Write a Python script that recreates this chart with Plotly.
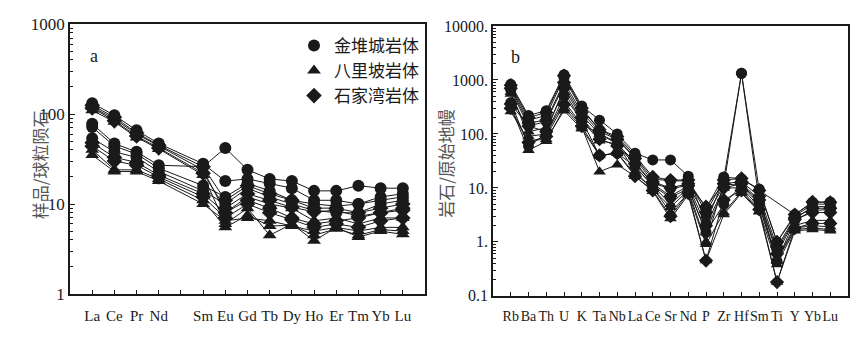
import plotly.graph_objects as go

# ---- chondrite-normalised REE (panel a) ----
ree = ["La", "Ce", "Pr", "Nd", "Sm", "Eu", "Gd", "Tb", "Dy", "Ho", "Er", "Tm", "Yb", "Lu"]
ree_axis = ["La", "Ce", "Pr", "Nd", "Pm", "Sm", "Eu", "Gd", "Tb", "Dy", "Ho", "Er", "Tm", "Yb", "Lu"]
ree_ticktext = ["La", "Ce", "Pr", "Nd", "", "Sm", "Eu", "Gd", "Tb", "Dy", "Ho", "Er", "Tm", "Yb", "Lu"]

ree_jdc = [
    [132, 97, 66, 47, 28, 18, 19, 17, 15, 11, 11, 10, 12, 13],
    [78, 47, 38, 27, 26, 42, 24, 19, 18, 14, 14, 16, 15, 15],
    [72, 44, 36, 25, 16, 12, 17, 14, 11, 10, 9.5, 10, 11, 12],
    [54, 38, 33, 23, 14, 10, 15, 12, 10, 8.5, 8, 8, 10, 11],
]
ree_blp = [
    [120, 88, 60, 44, 24, 8, 12, 10, 9, 6.5, 7, 6, 7, 7],
    [110, 82, 55, 41, 21, 6, 9, 4.5, 6, 3.9, 5.5, 4.3, 5, 4.6],
    [40, 24, 24, 19, 11, 5.5, 7.5, 5.7, 5.8, 4.5, 5.3, 4.5, 5.2, 5],
    [35, 23, 23, 18, 10, 6.5, 7, 6.5, 5.7, 5, 5.5, 5, 5.5, 5.5],
]
ree_sjw = [
    [125, 92, 62, 45, 26, 11, 16, 13, 11, 9, 9, 8, 9, 10],
    [48, 33, 29, 21, 13, 8, 11, 9, 7, 6, 6.5, 7, 8, 9],
    [44, 30, 27, 20, 12, 7, 10, 8, 6.7, 5.5, 6, 5.5, 6.5, 7],
    [117, 84, 57, 42, 22, 9, 13, 11, 9.2, 8.2, 8.5, 7.3, 8, 8.5],
]

# ---- primitive-mantle-normalised trace elements (panel b) ----
spider = ["Rb", "Ba", "Th", "U", "K", "Ta", "Nb", "La", "Ce", "Sr",
          "Nd", "P", "Zr", "Hf", "Sm", "Ti", "Y", "Yb", "Lu"]

tr_jdc = [
    [830, 220, 270, 1250, 330, 180, 100, 44, 33, 33, 16.5, 2.2, 14.7, 1330, 9, None, 3.2, 5.4, 5.5],
    [750, 180, 220, 1100, 280, 120, 83, 37, 14.7, 13.5, 13.5, 4.2, 16, 14.7, 9.5, 1.0, 3.0, 5.0, 5.0],
    [650, 140, 170, 800, 220, 100, 65, 30, 12, 9.8, 11, 3, 11, 1330, 5.8, 0.7, 2.7, 4.5, 4.5],
    [380, 60, 100, 500, 180, 40, 44, 25, 11, 6.6, 9.8, 1.5, 5, 11, 5, 0.44, 2.5, 3.8, 4.0],
]
tr_blp = [
    [550, 110, 130, 600, 180, 75, 65, 20, 9.5, 4.4, 9, 1.0, 12, 11, 5.8, 0.44, 2.0, 2.5, 2.5],
    [320, 50, 73, 300, 135, 20, 27, 16.5, 8.7, 2.7, 7.4, 0.45, 3.2, 8, 3.6, 0.18, 1.6, 1.7, 1.6],
    [260, 75, 80, 270, 125, 40, 44, 18, 10, 3.5, 8, 0.9, 3.5, 8.5, 3.7, 0.38, 1.7, 1.8, 1.7],
    [600, 90, 100, 400, 150, 100, 70, 25, 11, 5, 10, 1.5, 10, 10, 4.5, 0.45, 1.8, 2.0, 1.9],
]
tr_sjw = [
    [800, 200, 250, 1200, 300, 120, 90, 40, 16, 14, 14, 3.5, 14, 15, 9, 1.0, 3.2, 5.5, 5.4],
    [360, 140, 110, 700, 200, 80, 60, 28, 12, 7, 11, 2, 10, 12, 6, 0.6, 2.6, 3.5, 3.5],
    [300, 70, 90, 350, 140, 40, 44, 16.5, 9, 3.0, 8, 0.45, 6, 9, 4, 0.18, 1.8, 2.2, 2.2],
    [700, 160, 180, 900, 250, 110, 80, 35, 13, 10, 12, 4.5, 12, 13, 7, 0.8, 2.8, 4.2, 4.2],
]

groups = [
    ("八里坡岩体", "triangle-up", ree_blp, tr_blp),
    ("石家湾岩体", "diamond", ree_sjw, tr_sjw),
    ("金堆城岩体", "circle", ree_jdc, tr_jdc),
]
legend_order = ["金堆城岩体", "八里坡岩体", "石家湾岩体"]

INK = "#1a1a1a"
SERIF = "Liberation Serif, Times New Roman, serif"
CJK = "Noto Sans CJK SC"

fig = go.Figure()

for name, symbol, ree_rows, tr_rows in groups:
    for row in ree_rows:
        fig.add_trace(go.Scatter(
            x=ree, y=row, mode="lines+markers", xaxis="x", yaxis="y",
            line=dict(color=INK, width=1),
            marker=dict(symbol=symbol, size=12, color=INK),
            showlegend=False, connectgaps=True, hoverinfo="skip"))
    for row in tr_rows:
        fig.add_trace(go.Scatter(
            x=spider, y=row, mode="lines+markers", xaxis="x2", yaxis="y2",
            line=dict(color=INK, width=1),
            marker=dict(symbol=symbol, size=11, color=INK),
            showlegend=False, connectgaps=True, hoverinfo="skip"))

# legend entries (marker only)
sym = {g[0]: g[1] for g in groups}
for name in legend_order:
    fig.add_trace(go.Scatter(
        x=[None], y=[None], mode="markers", xaxis="x", yaxis="y", name=name,
        marker=dict(symbol=sym[name], size=12, color=INK), showlegend=True))

W, H = 865, 337


def minor_vals(lo, hi):
    vals = []
    for e in range(lo, hi):
        for m in range(2, 10):
            vals.append(m * 10 ** e)
    return vals


frame = dict(showline=True, mirror=True, linecolor=INK, linewidth=1.5,
             showgrid=False, zeroline=False)

fig.update_layout(
    width=W, height=H, autosize=False,
    margin=dict(l=0, r=0, t=0, b=0),
    paper_bgcolor="white", plot_bgcolor="white",
    xaxis=dict(domain=[70 / W, 425 / W], type="category",
               categoryorder="array", categoryarray=ree_axis,
               range=[-1, 15], tickmode="array", tickvals=ree_axis, ticktext=ree_ticktext,
               ticks="inside", ticklen=4, tickcolor=INK, tickangle=0, ticklabelstandoff=7,
               tickfont=dict(family=SERIF, size=15, color=INK), anchor="y", **frame),
    yaxis=dict(domain=[(H - 302) / H, (H - 16) / H], type="log", range=[0, 3],
               tickmode="array", tickvals=[1, 10, 100, 1000], ticktext=["1", "10", "100", "1000"],
               ticks="inside", ticklen=5, tickcolor=INK,
               minor=dict(tickmode="array", tickvals=minor_vals(0, 3), ticks="inside",
                          ticklen=3, tickcolor=INK, showgrid=False),
               tickfont=dict(family=SERIF, size=17, color=INK), anchor="x", **frame),
    xaxis2=dict(domain=[493 / W, 848 / W], type="category",
                categoryorder="array", categoryarray=spider,
                range=[-1, 19], tickmode="array", tickvals=spider, ticktext=spider,
                ticks="inside", ticklen=4, tickcolor=INK, tickangle=0, ticklabelstandoff=7,
                tickfont=dict(family=SERIF, size=14, color=INK), anchor="y2", **frame),
    yaxis2=dict(domain=[(H - 304) / H, (H - 18) / H], type="log", range=[-1, 4],
                tickmode="array", tickvals=[0.1, 1, 10, 100, 1000, 10000],
                ticktext=["0.1", "1.", "10.", "100.", "1000.", "10000."],
                ticks="inside", ticklen=5, tickcolor=INK,
                minor=dict(tickmode="array", tickvals=minor_vals(-1, 4), ticks="inside",
                           ticklen=3, tickcolor=INK, showgrid=False),
                tickfont=dict(family=SERIF, size=16, color=INK), anchor="x2", **frame),
    legend=dict(x=294 / W, y=1 - 20 / H, xanchor="left", yanchor="top",
                bgcolor="rgba(0,0,0,0)", borderwidth=0, itemwidth=30,
                font=dict(family=CJK, size=17, color=INK), tracegroupgap=0),
    annotations=[
        dict(text="a", x=88 / W, y=1 - 37 / H, xref="paper", yref="paper",
             showarrow=False, font=dict(family=SERIF, size=18, color=INK)),
        dict(text="b", x=515 / W, y=1 - 38 / H, xref="paper", yref="paper",
             showarrow=False, font=dict(family=SERIF, size=18, color=INK)),
        dict(text="样品/球粒陨石", x=25 / W, y=1 - 165 / H, xref="paper", yref="paper",
             textangle=-90, showarrow=False, font=dict(family=CJK, size=17, color="#555555")),
        dict(text="岩石/原始地幔", x=446 / W, y=1 - 163 / H, xref="paper", yref="paper",
             textangle=-90, showarrow=False, font=dict(family=CJK, size=17, color="#555555")),
    ],
)

fig.write_html("out.html")
